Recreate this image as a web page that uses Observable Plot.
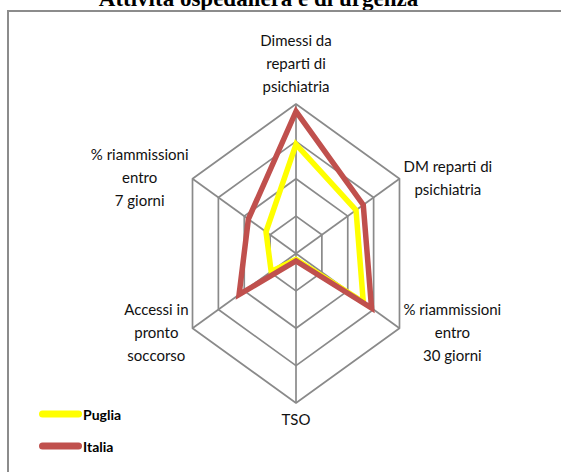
<!DOCTYPE html>
<html>
<head>
<meta charset="utf-8">
<script src="https://cdn.jsdelivr.net/npm/d3@7"></script>
<script src="https://cdn.jsdelivr.net/npm/@observablehq/plot@0.6"></script>
<style>
  html, body { margin: 0; padding: 0; background: #fff; }
  #wrap { position: relative; width: 561px; height: 472px; overflow: hidden; background: #fff; }
  #chart { position: absolute; left: 0; top: 0; }
  #frame { position: absolute; left: 7px; top: 10px; width: 620px; height: 520px;
           border-left: 2.5px solid #8c8c8c; border-top: 2.5px solid #8c8c8c; pointer-events: none; }
  #legend { position: absolute; left: 39px; top: 0; font-family: Lato, sans-serif; }
  .item { position: absolute; left: 0; display: flex; align-items: center; white-space: nowrap;
          font-weight: bold; font-size: 14px; color: #000; transform: translateY(-50%); }
  .swatch { display: inline-block; width: 43px; height: 6.5px; border-radius: 3.5px; margin-right: 1px; }
</style>
</head>
<body>
<div id="wrap">
  <div id="chart"></div>
  <div id="frame"></div>
  <div id="legend"></div>
</div>
<script>
const title = "Attività ospedaliera e di urgenza";
const axes = [
  "Dimessi da\nreparti di\npsichiatria",
  "DM reparti di\npsichiatria",
  "% riammissioni\nentro\n30 giorni",
  "TSO",
  "Accessi in\npronto\nsoccorso",
  "% riammissioni\nentro\n7 giorni"
];
const seriesNames = ["Puglia", "Italia"];
const seriesColors = ["#ffff00", "#c0504d"];
const puglia = [0.73, 0.58, 0.65, 0.04, 0.24, 0.29];
const italia = [0.95, 0.65, 0.73, 0.05, 0.55, 0.46];
const ringLevels = [0.25, 0.5, 0.75, 1];

const values = [puglia, italia];
const n = axes.length;
const ang = i => i * 2 * Math.PI / n;

const gridPts = ringLevels.flatMap(r => axes.map((_, i) => ({r, x: r * Math.sin(ang(i)), y: r * Math.cos(ang(i))})));
const spokes = axes.map((_, i) => ({x: Math.sin(ang(i)), y: Math.cos(ang(i))}));
const seriesPts = seriesNames.flatMap((s, k) => values[k].map((v, i) => ({series: s, v, x: v * Math.sin(ang(i)), y: v * Math.cos(ang(i))})));

const labelFont = "15px Lato";
const ctx = document.createElement("canvas").getContext("2d");
ctx.font = labelFont;
const lh = 23;

const labelMarks = axes.map((label, i) => {
  const s = Math.sin(ang(i)), c = Math.cos(ang(i));
  const lines = label.split("\n");
  const w = Math.max(...lines.map(l => ctx.measureText(l).width));
  let dx, dy;
  if (Math.abs(s) < 0.01) {
    dx = 0;
    dy = c > 0 ? -(lines.length * lh / 2 + 8) : (lines.length * lh / 2 + 3.5);
  } else {
    dx = Math.sign(s) * (w / 2 + 4);
    dy = c > 0 ? -3 : 2;
  }
  return Plot.text([{label, x: s, y: c}], {
    x: "x", y: "y", text: "label", dx, dy,
    textAnchor: "middle", lineAnchor: "middle", lineHeight: lh / 15,
    fontSize: 15, fontFamily: "Lato", fill: "#111"
  });
});

const cx = 295.5, cy = 253, rx = 119.5, ry = 149.5;

const chart = Plot.plot({
  width: 561, height: 472,
  margin: 0,
  x: {domain: [-1, 1], range: [cx - rx, cx + rx], axis: null},
  y: {domain: [-1, 1], range: [cy + ry, cy - ry], axis: null},
  color: {domain: seriesNames, range: seriesColors},
  marks: [
    Plot.line(gridPts, {x: "x", y: "y", z: "r", curve: "linear-closed", stroke: "#8a8a8a", strokeWidth: 1.7}),
    Plot.link(spokes, {x1: () => 0, y1: () => 0, x2: "x", y2: "y", stroke: "#8a8a8a", strokeWidth: 1.7}),
    Plot.line(seriesPts, {x: "x", y: "y", z: "series", stroke: "series", strokeWidth: 5.5,
      curve: "linear-closed", strokeLinejoin: "miter", strokeMiterlimit: 10}),
    ...labelMarks,
    Plot.text([title], {text: d => d, frameAnchor: "top", dx: -22.5, dy: 5, lineAnchor: "bottom",
      fontSize: 23, fontWeight: "bold", fontFamily: "Liberation Serif", fill: "#000"})
  ]
});
document.getElementById("chart").appendChild(chart);

const legend = document.getElementById("legend");
const legendY = [414, 446];
seriesNames.forEach((name, k) => {
  const item = document.createElement("div");
  item.className = "item";
  item.style.top = legendY[k] + "px";
  const sw = document.createElement("span");
  sw.className = "swatch";
  sw.style.background = seriesColors[k];
  const tx = document.createElement("span");
  tx.textContent = name;
  item.appendChild(sw);
  item.appendChild(tx);
  legend.appendChild(item);
});
</script>
</body>
</html>
